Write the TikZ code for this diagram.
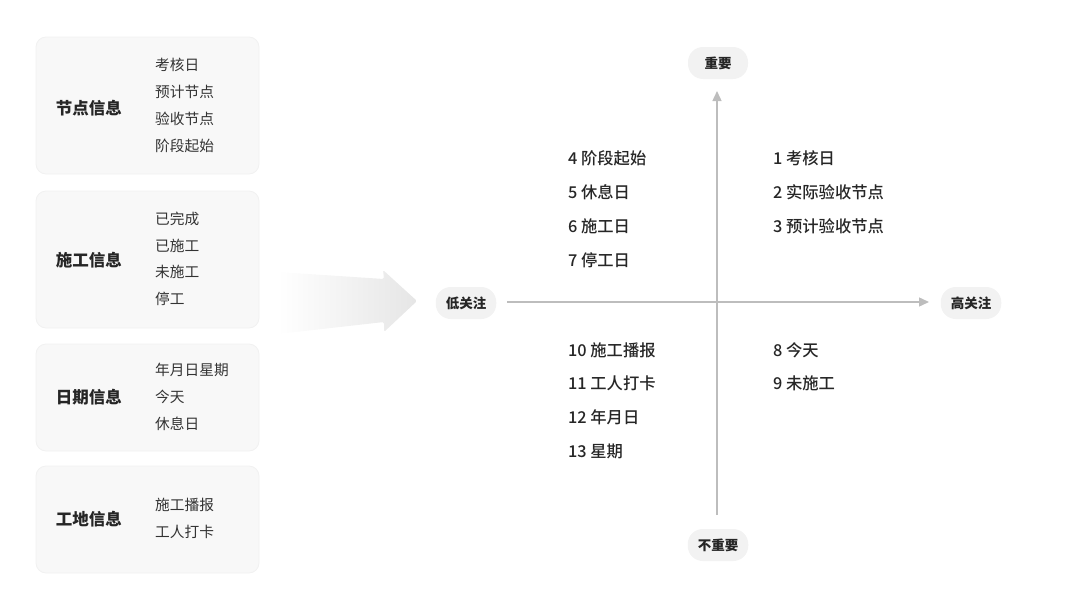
\documentclass[tikz,border=0pt]{standalone}
\usepackage{fontspec}
\setmainfont{Noto Sans CJK SC}
\newfontfamily\cjkm{Noto Sans CJK SC Medium}
\usetikzlibrary{arrows.meta}
\definecolor{panel}{HTML}{F8F8F8}
\definecolor{panelline}{HTML}{F1F1F1}
\definecolor{txt}{HTML}{333333}
\definecolor{axis}{HTML}{BDBDBD}
\definecolor{pill}{HTML}{F2F2F2}
\tikzset{
  panelbox/.style={fill=panel, draw=panelline, line width=0.8pt, rounded corners=10pt},
  ptitle/.style={font=\fontsize{16.5}{19}\selectfont\bfseries, text=black!85, anchor=center},
  pitem/.style={font=\fontsize{14.7}{17}\selectfont, text=txt, anchor=west, inner sep=0pt},
  qitem/.style={font=\fontsize{16.3}{19}\selectfont\cjkm, text=black!85, anchor=west, inner sep=0pt},
  pilllabel/.style={fill=pill, rounded corners=15pt, minimum height=32pt, minimum width=60pt, inner xsep=10pt, font=\fontsize{13.5}{15}\selectfont\bfseries, text=black!85},
  axisline/.style={draw=axis, line width=1.4pt, -{Triangle[length=10pt,width=9pt]}}
}
\begin{document}
\begin{tikzpicture}[x=1pt,y=-1pt]
\useasboundingbox (0,0) rectangle (1080,608);
% panels
\draw[panelbox] (36,37) rectangle (259,174);
\draw[panelbox] (36,191) rectangle (259,328);
\draw[panelbox] (36,344) rectangle (259,451);
\draw[panelbox] (36,466) rectangle (259,573);
\node[ptitle] (t1) at (89,108) {节点信息};
\node[ptitle] (t2) at (89,260) {施工信息};
\node[ptitle] (t3) at (89,397) {日期信息};
\node[ptitle] (t4) at (89,519) {工地信息};
\node[pitem] (a1) at (155,65) {考核日};
\node[pitem] (a2) at (155,92) {预计节点};
\node[pitem] (a3) at (155,119) {验收节点};
\node[pitem] (a4) at (155,146) {阶段起始};
\node[pitem] (b1) at (155,219) {已完成};
\node[pitem] (b2) at (155,246) {已施工};
\node[pitem] (b3) at (155,272) {未施工};
\node[pitem] (b4) at (155,299) {停工};
\node[pitem] (c1) at (155,370) {年月日星期};
\node[pitem] (c2) at (155,397) {今天};
\node[pitem] (c3) at (155,424) {休息日};
\node[pitem] (d1) at (155,505) {施工播报};
\node[pitem] (d2) at (155,532) {工人打卡};
% big gradient arrow
\shade[left color=white, right color=black!10, rounded corners=1.5pt]
  (278,272) -- (384,279) -- (383,270) -- (417,301) -- (384,332) -- (384,322) -- (278,334) -- cycle;
% axis labels
\node[pilllabel] (top) at (718,63) {重要};
\node[pilllabel] (bot) at (718,545) {不重要};
\node[pilllabel] (lft) at (466,303) {低关注};
\node[pilllabel] (rgt) at (971,303) {高关注};
\coordinate (hl) at (507,302);
\coordinate (hr) at (929,302);
\coordinate (vb) at (717,515);
\coordinate (vt) at (717,91);
\draw[axisline] (hl) -- (hr);
\draw[axisline] (vb) -- (vt);
% quadrant items
\node[qitem] (q4) at (568,158) {4 阶段起始};
\node[qitem] (q5) at (568,192) {5 休息日};
\node[qitem] (q6) at (568,226) {6 施工日};
\node[qitem] (q7) at (568,260) {7 停工日};
\node[qitem] (q1) at (773,158) {1 考核日};
\node[qitem] (q2) at (773,192) {2 实际验收节点};
\node[qitem] (q3) at (773,226) {3 预计验收节点};
\node[qitem] (q10) at (568,350) {10 施工播报};
\node[qitem] (q11) at (568,383) {11 工人打卡};
\node[qitem] (q12) at (568,417) {12 年月日};
\node[qitem] (q13) at (568,451) {13 星期};
\node[qitem] (q8) at (773,350) {8 今天};
\node[qitem] (q9) at (773,383) {9 未施工};
\end{tikzpicture}
\end{document}
